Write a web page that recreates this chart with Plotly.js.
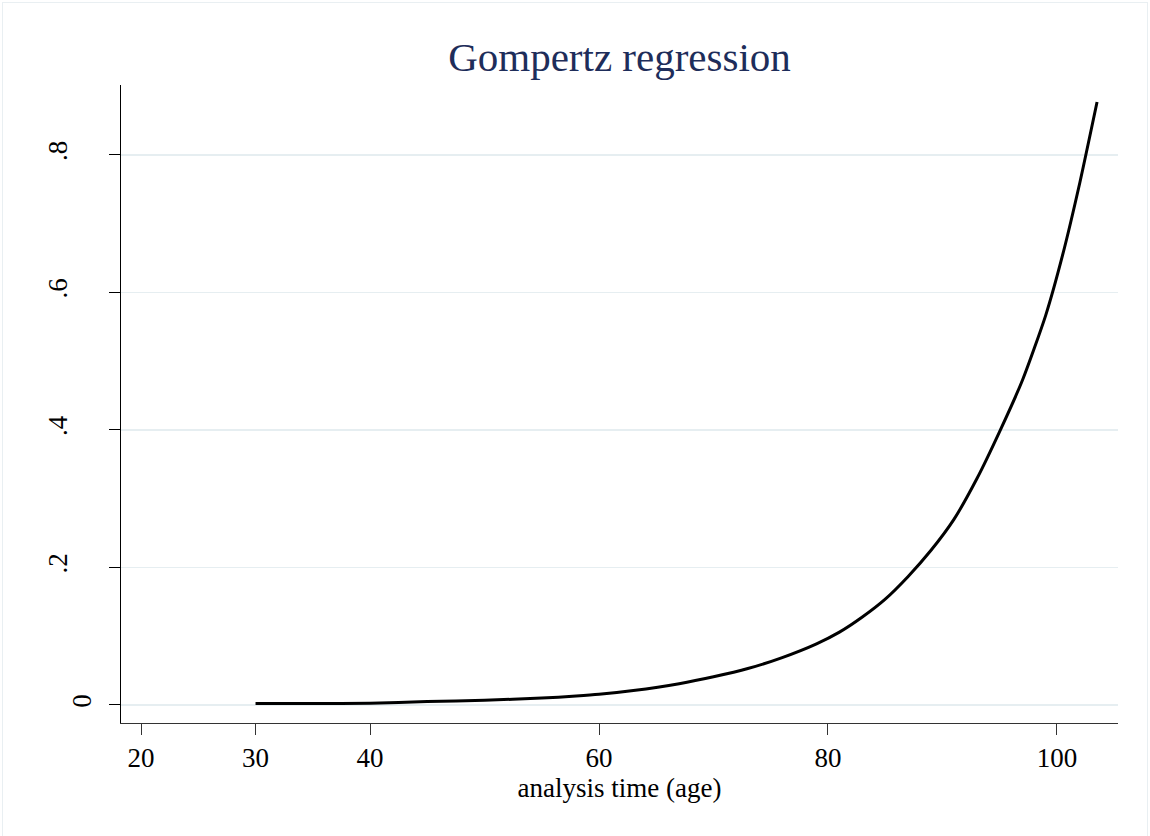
<!DOCTYPE html>
<html>
<head>
<meta charset="utf-8">
<script src="https://cdn.plot.ly/plotly-3.0.1.min.js"></script>
<style>
  html, body { margin: 0; padding: 0; background: #ffffff; }
  #wrap { position: relative; width: 1150px; height: 836px; }
  #chart { width: 1150px; height: 836px; }
  #frame { position: absolute; left: 2px; top: 2px; width: 1146px; height: 840px;
           border: 1px solid #e9eff2; pointer-events: none; box-sizing: border-box; }
</style>
</head>
<body>
<div id="wrap">
  <div id="chart"></div>
  <div id="frame"></div>
</div>
<script>
// Values
const age = [30, 35, 40, 45, 50, 55, 58, 60, 63, 67, 70, 73, 76, 79, 81, 83, 85, 87, 89, 91, 93, 95, 97, 99, 100.5, 102, 103.5];
const hazard = [0.002, 0.002, 0.0025, 0.005, 0.007, 0.010, 0.013, 0.0155, 0.021, 0.031, 0.041, 0.053, 0.069, 0.089, 0.106, 0.128, 0.154, 0.187, 0.225, 0.270, 0.329, 0.398, 0.473, 0.566, 0.655, 0.760, 0.877];

const xTickVals = [20, 30, 40, 60, 80, 100];
const xTickText = ['20', '30', '40', '60', '80', '100'];
const yTickVals = [0, 0.2, 0.4, 0.6, 0.8];
const yTickText = ['', '.2', '.4', '.6', '.8'];
const yZeroVals = [0];
const yZeroText = ['0'];

const chartTitle = 'Gompertz regression';
const xTitle = 'analysis time (age)';

const serif = 'Liberation Serif, Times New Roman, serif';
const yRange = [-0.0262, 0.9018];

const trace = {
  x: age,
  y: hazard,
  type: 'scatter',
  mode: 'lines',
  line: { color: '#000000', width: 3, shape: 'spline', smoothing: 0.6 },
  hoverinfo: 'skip'
};

// invisible helper trace so the second y axis (carrying the "0" label) is drawn
const helper = {
  x: [age[0]],
  y: [hazard[0]],
  type: 'scatter',
  mode: 'markers',
  marker: { opacity: 0 },
  yaxis: 'y2',
  hoverinfo: 'skip'
};

const layout = {
  width: 1150,
  height: 836,
  margin: { l: 121, r: 32, t: 85, b: 113, pad: 0 },
  paper_bgcolor: 'rgba(0,0,0,0)',
  plot_bgcolor: '#ffffff',
  showlegend: false,
  title: {
    text: chartTitle,
    font: { family: serif, size: 41, color: '#1e2d5a' },
    x: 0.5, xref: 'paper', xanchor: 'center',
    y: 1 - 57 / 836, yref: 'container', yanchor: 'middle'
  },
  xaxis: {
    range: [18.25, 105.33],
    tickmode: 'array',
    tickvals: xTickVals,
    ticktext: xTickText,
    ticks: 'outside', ticklen: 11, tickwidth: 1, tickcolor: '#333333',
    showline: true, linecolor: '#333333', linewidth: 1,
    showgrid: false, zeroline: false,
    tickfont: { family: serif, size: 27, color: '#000000' },
    title: { text: xTitle, font: { family: serif, size: 27, color: '#000000' }, standoff: 2 },
    automargin: false
  },
  yaxis: {
    range: yRange,
    tickmode: 'array',
    tickvals: yTickVals,
    ticktext: yTickText,
    tickangle: -90,
    ticks: 'outside', ticklen: 11, tickwidth: 1, tickcolor: '#000000',
    showline: true, linecolor: '#000000', linewidth: 1,
    showgrid: true, gridcolor: '#e6eef1', gridwidth: 1.5,
    zeroline: false,
    ticklabelstandoff: 31,
    tickfont: { family: serif, size: 27, color: '#000000' },
    automargin: false
  },
  yaxis2: {
    overlaying: 'y',
    side: 'left',
    range: yRange,
    tickmode: 'array',
    tickvals: yZeroVals,
    ticktext: yZeroText,
    tickangle: -90,
    ticks: 'outside', ticklen: 11, tickwidth: 1, tickcolor: 'rgba(0,0,0,0)',
    showline: false, showgrid: false, zeroline: false,
    ticklabelstandoff: 7,
    tickfont: { family: serif, size: 27, color: '#000000' },
    automargin: false
  }
};

Plotly.newPlot('chart', [trace, helper], layout, { displayModeBar: false, staticPlot: true });
</script>
</body>
</html>
